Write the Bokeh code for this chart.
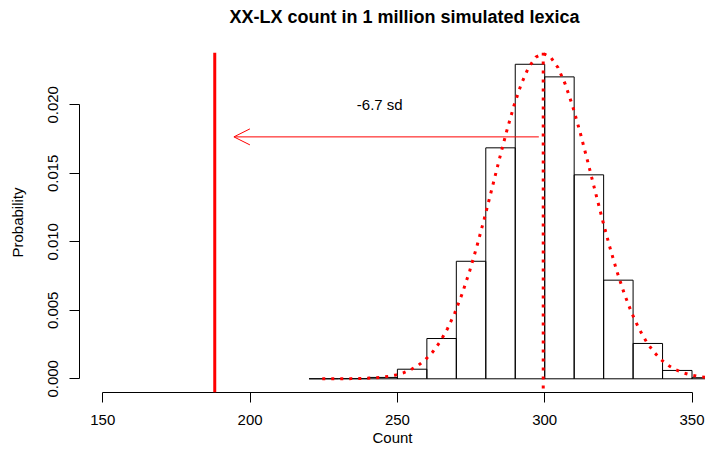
from bokeh.plotting import figure
from bokeh.models import (Range1d, FixedTicker, PrintfTickFormatter, Span, Arrow,
                          OpenHead, Label, Title, ColumnDataSource)
from bokeh.embed import file_html
from bokeh.resources import INLINE

# ---- data ----
bin_edges = [220, 230, 240, 250, 260, 270, 280, 290, 300, 310, 320, 330, 340, 350, 360]
density = [0.000002, 0.00001, 0.0001, 0.0007, 0.00294, 0.00858, 0.01686, 0.02296,
           0.02204, 0.01489, 0.0072, 0.00258, 0.00061, 0.00008]

curve_x = [224.5, 227.0, 229.5, 232.0, 234.5, 237.0, 239.5, 242.0, 244.5, 247.0,
           249.5, 252.0, 254.5, 257.0, 259.5, 262.0, 264.5, 267.0, 269.5, 272.0,
           274.5, 277.0, 279.5, 282.0, 284.5, 287.0, 289.5, 292.0, 294.5, 297.0,
           299.5, 302.0, 304.5, 307.0, 309.5, 312.0, 314.5, 317.0, 319.5, 322.0,
           324.5, 327.0, 329.5, 332.0, 334.5, 337.0, 339.5, 342.0, 344.5, 347.0,
           349.5, 352.0, 354.5, 357.0, 359.5]
curve_y = [0.0000011, 0.0000021, 0.0000040, 0.0000074, 0.0000133, 0.0000235, 0.0000403,
           0.0000679, 0.000112, 0.000180, 0.000283, 0.000436, 0.000657, 0.000968,
           0.001395, 0.001966, 0.002710, 0.003655, 0.004821, 0.006220, 0.007848,
           0.009685, 0.011691, 0.013803, 0.015941, 0.018005, 0.019892, 0.021495,
           0.022718, 0.023485, 0.023747, 0.023485, 0.022718, 0.021495, 0.019892,
           0.018005, 0.015941, 0.013803, 0.011691, 0.009685, 0.007848, 0.006220,
           0.004821, 0.003655, 0.002710, 0.001966, 0.001395, 0.000968, 0.000657,
           0.000436, 0.000283, 0.000180, 0.000112, 0.0000679, 0.0000403]

observed = 188
sim_mean = 299.5
arrow_x_start = 298
arrow_x_end = 194.5
arrow_y = 0.01766
sd_label = "-6.7 sd"
sd_label_x = 244
sd_label_y = 0.020

x_ticks = [150, 200, 250, 300, 350]
y_ticks = [0.0, 0.005, 0.010, 0.015, 0.020]

title_text = "XX-LX count in 1 million simulated lexica"
x_label = "Count"
y_label = "Probability"

FONT = "Liberation Sans"

p = figure(width=705, height=449, output_backend="svg", toolbar_location=None,
           x_range=Range1d(142.09, 354.58), y_range=Range1d(-0.001, 0.02382),
           min_border_left=79, min_border_right=0, min_border_top=52,
           min_border_bottom=57, title=None)
p.outline_line_color = None
p.background_fill_color = "white"
p.border_fill_color = "white"
p.xgrid.visible = False
p.ygrid.visible = False

# blank spacer band between the frame and the title
p.add_layout(Title(text=" ", standoff=12, text_font_size="11px", text_font=FONT),
             "above")
p.add_layout(Title(text=title_text, align="left", offset=150, standoff=0,
                   text_font_size="18px", text_font=FONT, text_font_style="bold",
                   text_color="black"), "above")

for ax in (p.xaxis[0], p.yaxis[0]):
    ax.major_tick_out = 10
    ax.major_tick_in = 0
    ax.minor_tick_out = 0
    ax.minor_tick_in = 0
    ax.axis_line_color = "black"
    ax.major_tick_line_color = "black"
    ax.axis_line_width = 1
    ax.major_label_text_font = FONT
    ax.major_label_text_font_size = "15px"
    ax.major_label_text_color = "black"
    ax.axis_label_text_font = FONT
    ax.axis_label_text_font_size = "15px"
    ax.axis_label_text_font_style = "normal"
    ax.axis_label_text_color = "black"

xa = p.xaxis[0]
xa.ticker = FixedTicker(ticks=x_ticks)
xa.bounds = (x_ticks[0], x_ticks[-1])
xa.major_label_standoff = 12
xa.axis_label = x_label
xa.axis_label_standoff = 1

ya = p.yaxis[0]
ya.ticker = FixedTicker(ticks=y_ticks)
ya.formatter = PrintfTickFormatter(format="%.3f")
ya.bounds = (y_ticks[0], y_ticks[-1])
ya.major_label_orientation = "vertical"
ya.major_label_standoff = 11
ya.axis_label = y_label
ya.axis_label_standoff = 20

src = ColumnDataSource(dict(left=bin_edges[:-1], right=bin_edges[1:],
                            top=density, bottom=[0] * len(density)))
p.quad(left="left", right="right", top="top", bottom="bottom", source=src,
       fill_color=None, line_color="black", line_width=1)

p.line(curve_x, curve_y, line_color="red", line_width=3, line_dash="3 6")

p.add_layout(Span(location=sim_mean, dimension="height", line_color="red",
                  line_width=3, line_dash="3 6"))
p.add_layout(Span(location=observed, dimension="height", line_color="red",
                  line_width=3))

p.add_layout(Arrow(end=OpenHead(size=16, line_color="red", line_width=1),
                   x_start=arrow_x_start, y_start=arrow_y,
                   x_end=arrow_x_end, y_end=arrow_y,
                   line_color="red", line_width=1))

p.add_layout(Label(x=sd_label_x, y=sd_label_y, text=sd_label, text_align="center",
                   text_baseline="middle", text_font=FONT, text_font_size="15px",
                   text_color="black"))

open("out.html", "w").write(file_html(p, INLINE))
